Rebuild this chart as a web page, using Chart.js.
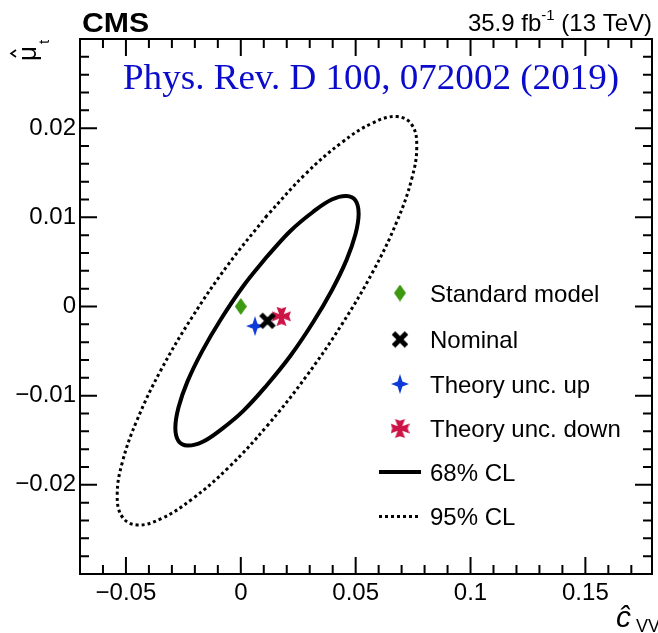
<!DOCTYPE html>
<html>
<head>
<meta charset="utf-8">
<script src="https://cdn.jsdelivr.net/npm/chart.js@4.4.1/dist/chart.umd.min.js"></script>
<style>
  html, body { margin: 0; padding: 0; background: #fff; }
  #wrap { width: 658px; height: 633px; }
</style>
</head>
<body>
<div id="wrap"><canvas id="fit" width="658" height="633"></canvas></div>
<script>
// best-fit points
const smPoint = [{ x: 0, y: 0 }];
const nominalPoint = [{ x: 0.0116, y: -0.0016 }];
const theoryUpPoint = [{ x: 0.0062, y: -0.0022 }];
const theoryDownPoint = [{ x: 0.0177, y: -0.0011 }];

// 68% CL contour
const cl68X = [0.0114, 0.0011, -0.0086, -0.0168, -0.0232, -0.0271, -0.0285, -0.0271, -0.0232, -0.0168, -0.0086, 0.0011,
               0.0114, 0.0217, 0.0314, 0.0396, 0.0460, 0.0499, 0.0513, 0.0499, 0.0460, 0.0396, 0.0314, 0.0217, 0.0114];
const cl68Y = [0.0056, 0.0023, -0.0014, -0.0050, -0.0084, -0.0113, -0.0136, -0.0151, -0.0156, -0.0152, -0.0138, -0.0117,
               -0.0088, -0.0055, -0.0018, 0.0018, 0.0052, 0.0081, 0.0104, 0.0119, 0.0124, 0.0120, 0.0106, 0.0085, 0.0056];

// 95% CL contour
const cl95X = [0.0114, -0.0055, -0.0212, -0.0347, -0.0451, -0.0516, -0.0538, -0.0516, -0.0451, -0.0347, -0.0212, -0.0055,
               0.0114, 0.0283, 0.0440, 0.0575, 0.0679, 0.0744, 0.0766, 0.0744, 0.0679, 0.0575, 0.0440, 0.0283, 0.0114];
const cl95Y = [0.0102, 0.0047, -0.0012, -0.0071, -0.0127, -0.0175, -0.0212, -0.0236, -0.0245, -0.0238, -0.0216, -0.0181,
               -0.0134, -0.0079, -0.0020, 0.0039, 0.0095, 0.0143, 0.0180, 0.0204, 0.0213, 0.0206, 0.0184, 0.0149, 0.0102];

const xTicks = [-0.05, 0, 0.05, 0.1, 0.15];
const yTicks = [-0.02, -0.01, 0, 0.01, 0.02];

const legendOrder = ['Standard model', 'Nominal', 'Theory unc. up', 'Theory unc. down', '68% CL', '95% CL'];

const SANS = "'Liberation Sans', Arial, sans-serif";

function makeMarker(w, h, draw) {
  const c = document.createElement('canvas');
  c.width = w;
  c.height = h;
  draw(c.getContext('2d'), w / 2, h / 2);
  return c;
}

const diamond = makeMarker(12, 17, (g, cx, cy) => {
  g.fillStyle = '#3d9910';
  g.beginPath();
  g.moveTo(cx, 0); g.lineTo(12, cy); g.lineTo(cx, 17); g.lineTo(0, cy);
  g.closePath();
  g.fill();
});

const xMark = makeMarker(18, 18, (g) => {
  g.strokeStyle = '#000';
  g.lineWidth = 5;
  g.beginPath();
  g.moveTo(2.5, 2.5); g.lineTo(15.5, 15.5);
  g.moveTo(15.5, 2.5); g.lineTo(2.5, 15.5);
  g.stroke();
});

const star4 = makeMarker(18, 20, (g, cx, cy) => {
  const k = 2.4;
  g.fillStyle = '#0b3ad6';
  g.beginPath();
  g.moveTo(cx, 0); g.lineTo(cx + k, cy - k); g.lineTo(18, cy); g.lineTo(cx + k, cy + k);
  g.lineTo(cx, 20); g.lineTo(cx - k, cy + k); g.lineTo(0, cy); g.lineTo(cx - k, cy - k);
  g.closePath();
  g.fill();
});

const crossPattee = makeMarker(19, 19, (g, cx, cy) => {
  const s = 9.5, n = 2.3, f = 5, d = 1.8;
  const pts = [[-f, -s], [0, -s + d], [f, -s], [n, -n], [s, -f], [s - d, 0], [s, f], [n, n],
               [f, s], [0, s - d], [-f, s], [-n, n], [-s, f], [-s + d, 0], [-s, -f], [-n, -n]];
  g.fillStyle = '#cc1447';
  g.beginPath();
  pts.forEach(([px, py], i) => i ? g.lineTo(cx + px, cy + py) : g.moveTo(cx + px, cy + py));
  g.closePath();
  g.fill();
});

function zip(xs, ys) {
  return xs.map((v, i) => ({ x: v, y: ys[i] }));
}

function fmt(v) {
  if (v === 0) return '0';
  return (v < 0 ? '\u2212' : '') + Math.abs(v);
}

// frame with inward ticks on all four sides, legend and labels
const decorations = {
  id: 'decorations',
  afterDatasetsDraw(chart) {
    const { ctx, chartArea: a, scales: { x, y } } = chart;
    ctx.save();
    ctx.strokeStyle = '#000';
    ctx.lineWidth = 2;
    ctx.strokeRect(a.left, a.top, a.right - a.left, a.bottom - a.top);

    ctx.beginPath();
    for (let i = -7; i <= 17; i++) {
      const px = x.getPixelForValue(i / 100);
      if (px <= a.left + 1 || px >= a.right - 1) continue;
      const len = i % 5 === 0 ? 17 : 9;
      ctx.moveTo(px, a.bottom); ctx.lineTo(px, a.bottom - len);
      ctx.moveTo(px, a.top); ctx.lineTo(px, a.top + len);
    }
    for (let i = -14; i <= 14; i++) {
      const py = y.getPixelForValue(i * 0.002);
      if (py <= a.top + 1 || py >= a.bottom - 1) continue;
      const len = i % 5 === 0 ? 17 : 9;
      ctx.moveTo(a.left, py); ctx.lineTo(a.left + len, py);
      ctx.moveTo(a.right, py); ctx.lineTo(a.right - len, py);
    }
    ctx.stroke();

    // legend
    const rows = [293, 339.5, 384, 428.5, 472, 516.5];
    ctx.font = '24px ' + SANS;
    ctx.fillStyle = '#000';
    ctx.textBaseline = 'alphabetic';
    legendOrder.forEach((name, i) => {
      const ds = chart.data.datasets.find(d => d.label === name);
      const cy = rows[i];
      if (ds.showLine) {
        ctx.save();
        ctx.lineWidth = ds.borderWidth;
        ctx.setLineDash(ds.borderDash || []);
        ctx.beginPath();
        ctx.moveTo(379, cy); ctx.lineTo(421, cy);
        ctx.stroke();
        ctx.restore();
      } else {
        const img = ds.pointStyle;
        ctx.drawImage(img, 400 - img.width / 2, cy - img.height / 2);
      }
      ctx.fillText(name, 430, cy + 8.5);
    });

    // header
    ctx.save();
    ctx.translate(82, 32);
    ctx.scale(1.12, 1);
    ctx.font = 'bold 27px ' + SANS;
    ctx.fillText('CMS', 0, 0);
    ctx.restore();

    const right = 652;
    ctx.font = '24px ' + SANS;
    const p1 = '35.9 fb', p2 = ' (13 TeV)';
    const w1 = ctx.measureText(p1).width, w2 = ctx.measureText(p2).width;
    ctx.font = '15px ' + SANS;
    const ws = ctx.measureText('-1').width;
    const x0 = right - w1 - ws - w2;
    ctx.font = '24px ' + SANS;
    ctx.fillText(p1, x0, 31);
    ctx.font = '15px ' + SANS;
    ctx.fillText('-1', x0 + w1, 20);
    ctx.font = '24px ' + SANS;
    ctx.fillText(p2, x0 + w1 + ws, 31);

    ctx.save();
    ctx.translate(123, 89);
    ctx.scale(1.03, 1);
    ctx.fillStyle = '#0b0bcc';
    ctx.font = "36px 'Liberation Serif', 'Times New Roman', serif";
    ctx.fillText('Phys. Rev. D 100, 072002 (2019)', 0, 0);
    ctx.restore();

    // axis titles
    ctx.font = 'italic 30px ' + SANS;
    ctx.fillText('\u0109', 616, 627);
    ctx.font = '18px ' + SANS;
    ctx.fillText('VV', 636, 632);

    ctx.translate(36, 61);
    ctx.rotate(-Math.PI / 2);
    ctx.font = '26px ' + SANS;
    ctx.fillText('\u03bc', 0, 0);
    ctx.lineWidth = 1.6;
    ctx.beginPath();
    ctx.moveTo(4, -20); ctx.lineTo(7.5, -25); ctx.lineTo(11, -20);
    ctx.stroke();
    ctx.font = '15px ' + SANS;
    ctx.fillText('t', 17, 13);
    ctx.restore();
  }
};

new Chart(document.getElementById('fit'), {
  type: 'scatter',
  data: {
    datasets: [
      { label: 'Nominal', data: nominalPoint, pointStyle: xMark, pointRadius: 5 },
      { label: 'Theory unc. down', data: theoryDownPoint, pointStyle: crossPattee, pointRadius: 5 },
      { label: 'Theory unc. up', data: theoryUpPoint, pointStyle: star4, pointRadius: 5 },
      { label: 'Standard model', data: smPoint, pointStyle: diamond, pointRadius: 5 },
      { label: '68% CL', data: zip(cl68X, cl68Y), showLine: true, borderColor: '#000', borderWidth: 4,
        pointRadius: 0, tension: 0.4, fill: false },
      { label: '95% CL', data: zip(cl95X, cl95Y), showLine: true, borderColor: '#000', borderWidth: 3,
        borderDash: [3, 3], pointRadius: 0, tension: 0.4, fill: false }
    ]
  },
  options: {
    responsive: false,
    animation: false,
    events: [],
    layout: { padding: { top: 39, right: 4, left: 0, bottom: 0 } },
    plugins: { legend: { display: false }, tooltip: { enabled: false } },
    scales: {
      x: {
        type: 'linear', min: -0.07, max: 0.179,
        grid: { display: false, drawTicks: false },
        border: { display: false },
        afterFit: s => { s.height = 59; },
        afterBuildTicks: s => { s.ticks = xTicks.map(v => ({ value: v })); },
        ticks: { color: '#000', font: { size: 24, family: SANS }, padding: 5, maxRotation: 0, callback: fmt }
      },
      y: {
        type: 'linear', min: -0.03, max: 0.03,
        grid: { display: false, drawTicks: false },
        border: { display: false },
        afterFit: s => { s.width = 80; },
        afterBuildTicks: s => { s.ticks = yTicks.map(v => ({ value: v })); },
        ticks: { color: '#000', font: { size: 24, family: SANS }, padding: 4, callback: fmt }
      }
    }
  },
  plugins: [decorations]
});
</script>
</body>
</html>
